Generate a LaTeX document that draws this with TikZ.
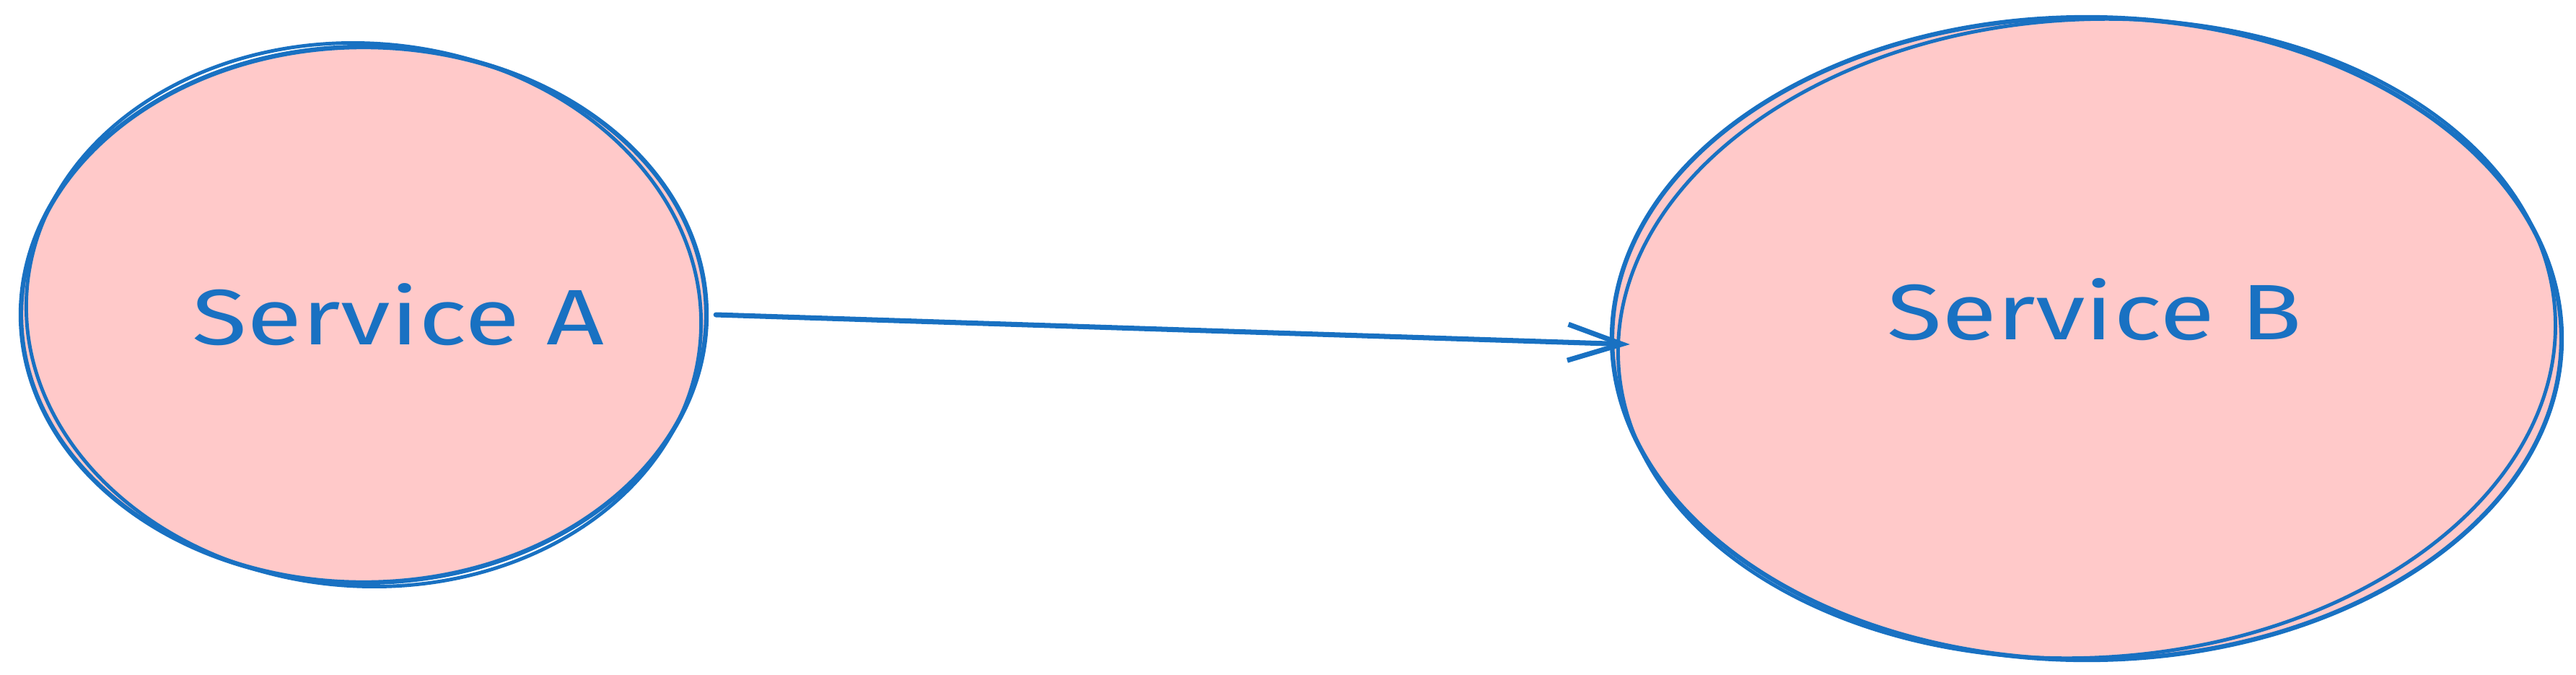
\documentclass[tikz,border=0pt]{standalone}
\usepackage{fontspec}
\setmainfont{Fira Sans}
\newfontfamily\handfont[FakeStretch=1.28]{Fira Sans}
\usepackage{tikz}
\usetikzlibrary{arrows.meta}
\usetikzlibrary{shapes.geometric}
\usetikzlibrary{calc,positioning}

\definecolor{sketchblue}{HTML}{1971C2}
\definecolor{sketchpink}{HTML}{FFC9C9}

\tikzset{
    service/.style={ellipse, draw=sketchblue, fill=sketchpink, line width=1.8pt, inner sep=0pt},
    svclabel/.style={text=sketchblue, inner sep=0pt, font=\handfont\fontsize{31}{36}\selectfont},
    sketch/.style={draw=sketchblue, line width=1.4pt},
    flow/.style={draw=sketchblue, line width=2pt, line cap=round, -{Straight Barb[length=7.5mm, width=5mm, line width=2pt]}}
}

\begin{document}
\begin{tikzpicture}[>=Stealth]

    \useasboundingbox (0,0) rectangle (35.7,9.34);

    \node[service, minimum width=9.5cm, minimum height=7.42cm] (A) at (5.04,4.98) {};
    \node[service, minimum width=13.16cm, minimum height=8.9cm] (B) at (28.92,4.65) {};

    % second pass of the pen
    \draw[sketch, rotate around={-4:(A.center)}] (A.center) ellipse (4.68 and 3.76);
    \draw[sketch, rotate around={3:(B.center)}] (B.center) ellipse (6.5 and 4.42);

    \node[svclabel] (Atext) at ([xshift=4.8mm]A.center) {Service A};
    \node[svclabel] (Btext) at ([xshift=1.1mm,yshift=4mm]B.center) {Service B};

    \draw[flow] ([xshift=1mm]A.east) -- ([xshift=2.8mm,yshift=-0.8mm]B.west);

\end{tikzpicture}
\end{document}
